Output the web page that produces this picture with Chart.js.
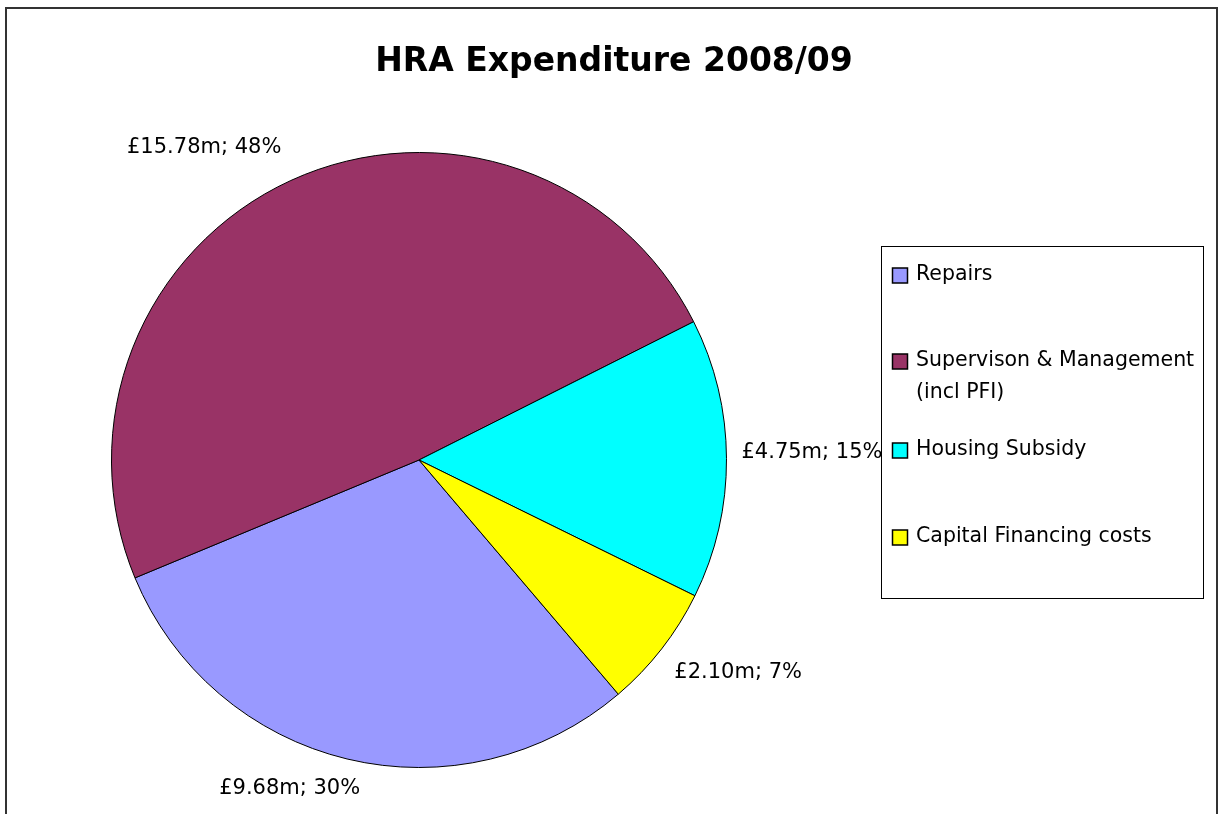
<!DOCTYPE html>
<html>
<head>
<meta charset="utf-8">
<script src="https://cdn.jsdelivr.net/npm/chart.js@4"></script>
<style>
  body { margin: 0; background: #fff; }
  canvas { display: block; }
</style>
</head>
<body>
<canvas id="myChart" width="1218" height="814"></canvas>
<script>
// categorias e valores (em milhões de libras)
const labels = ['Repairs', 'Supervison & Management (incl PFI)', 'Housing Subsidy', 'Capital Financing costs'];
const legendLines = [['Repairs'], ['Supervison & Management', '(incl PFI)'], ['Housing Subsidy'], ['Capital Financing costs']];
const values = [9.68, 15.78, 4.75, 2.10];
const percents = [30, 48, 15, 7];
const colors = ['#9999FF', '#993366', '#00FFFF', '#FFFF00'];

const FONT = '"DejaVu Sans", sans-serif';

// desenha moldura, título, rótulos e legenda
const decor = {
  id: 'decor',
  afterDraw(chart) {
    const c = chart.ctx;
    c.save();
    c.strokeStyle = '#333';
    c.lineWidth = 2;
    c.strokeRect(6, 8, 1211, 900);

    c.fillStyle = '#000';
    c.font = 'bold 33px ' + FONT;
    c.textAlign = 'center';
    c.textBaseline = 'middle';
    c.fillText('HRA Expenditure 2008/09', 614, 62);

    // rótulos de dados a partir da geometria dos arcos
    const nudge = [[-43, -30], [-61, 23], [24, -6], [28, -14]];
    c.font = '21px ' + FONT;
    chart.getDatasetMeta(0).data.forEach((arc, i) => {
      const mid = (arc.startAngle + arc.endAngle) / 2;
      const d = arc.outerRadius * 1.2;
      const x = arc.x + Math.cos(mid) * d + nudge[i][0];
      const y = arc.y + Math.sin(mid) * d + nudge[i][1];
      c.fillText('£' + values[i].toFixed(2) + 'm; ' + percents[i] + '%', x, y);
    });

    // legenda com borda
    c.lineWidth = 1;
    c.strokeStyle = '#000';
    c.strokeRect(881.5, 246.5, 322, 352);
    const rowY = [275, 361, 450, 537];
    c.textAlign = 'left';
    c.font = '20.5px ' + FONT;
    legendLines.forEach((lines, i) => {
      c.fillStyle = colors[i];
      c.fillRect(892.5, rowY[i] - 7, 15, 15);
      c.lineWidth = 1.5;
      c.strokeRect(892.5, rowY[i] - 7, 15, 15);
      c.fillStyle = '#000';
      lines.forEach((t, j) => c.fillText(t, 916, rowY[i] + j * 32));
    });
    c.restore();
  }
};

const ctx = document.getElementById('myChart');
new Chart(ctx, {
  type: 'pie',
  data: {
    labels: labels,
    datasets: [{
      data: values,
      backgroundColor: colors,
      borderColor: '#000',
      borderWidth: 1
    }]
  },
  options: {
    responsive: false,
    animation: false,
    rotation: 139.6,
    layout: { padding: { left: 111, right: 491, top: 152, bottom: 46 } },
    plugins: { legend: { display: false }, tooltip: { enabled: false }, title: { display: false } }
  },
  plugins: [decor]
});
</script>
</body>
</html>
